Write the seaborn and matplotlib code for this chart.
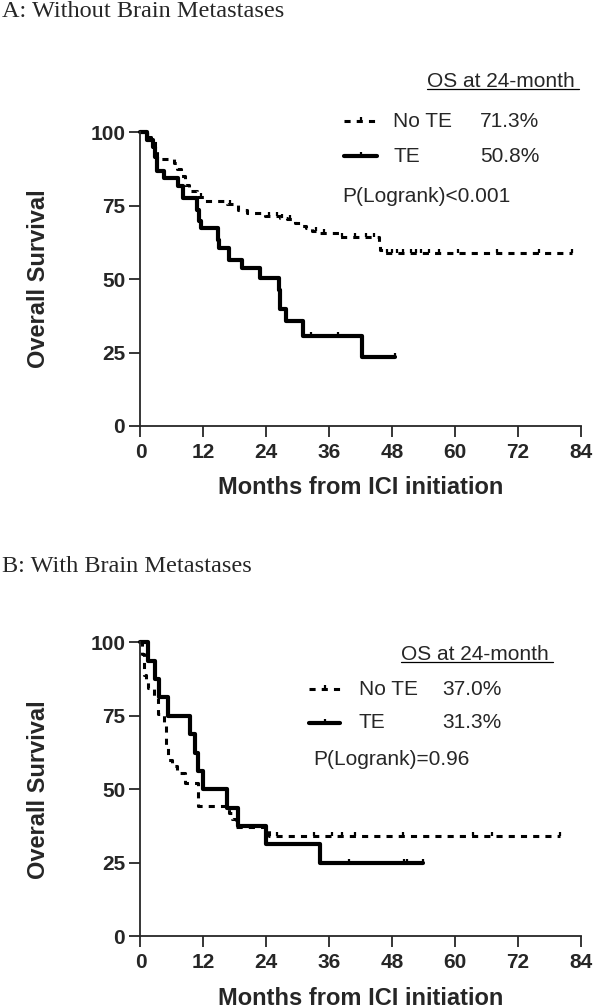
import numpy as np
import pandas as pd
import matplotlib
matplotlib.use("Agg")
import matplotlib.pyplot as plt
import seaborn as sns

# Panel A: without brain metastases (step start times in months, survival %)
a_note_t = [0, 1.0, 2.0, 2.8, 3.2, 6.4, 6.9, 7.7, 8.5, 9.2, 10.7, 12.1, 16.5, 18.6,
            20.4, 23.7, 26.6, 28.0, 29.5, 30.6, 31.6, 32.7, 33.8, 37.8, 45.4, 45.7,
            46.4, 82.2]
a_note_s = [100, 98.5, 97, 94, 91, 89.5, 87.5, 85, 82, 80, 78, 76.5, 75.5, 73.5,
            72.5, 71.5, 71, 70.5, 69, 68, 67.5, 66.5, 65.8, 64.5, 62, 60, 59, 59]
a_note_cens = [1.5, 11.5, 17.0, 24.5, 26.0, 27.0, 28.5, 33.5, 35.0, 38.5, 41.0,
               43.0, 44.5, 47.0, 48.0, 49.0, 50.0, 51.5, 52.5, 53.5, 55.0, 57.0,
               60.5, 68.0, 76.0, 82.2]
a_te_t = [0, 1.3, 2.4, 2.7, 3.1, 4.55, 7.1, 8.2, 10.7, 11.2, 11.6, 14.7, 14.9,
          16.8, 19.4, 22.8, 26.4, 26.6, 27.7, 30.9, 42.3, 48.6]
a_te_s = [100, 97.5, 95, 91.5, 87, 84.4, 81.6, 77.6, 73.6, 69.7, 67.4, 63.4, 60.6,
          56.6, 53.75, 50.3, 46.4, 40, 35.6, 30.7, 23.6, 23.6]
a_te_cens = [32.5, 37.6, 48.6]

# Panel B: with brain metastases
b_note_t = [0, 0.3, 0.6, 1.0, 1.5, 2.5, 3.3, 4.5, 4.9, 5.3, 6.0, 7.0, 8.5, 10.9,
            16.8, 17.5, 18.2, 24.6, 80.0]
b_note_s = [100, 96, 89, 86.5, 84.5, 81, 75.5, 72, 64, 60, 58, 55.5, 52, 44.4,
            41.8, 40, 37.3, 33.9, 33.9]
b_note_cens = [26.0, 33.0, 36.5, 38.5, 41.0, 50.0, 63.5, 67.0, 80.0]
b_te_t = [0, 1.5, 2.8, 3.6, 5.3, 9.4, 10.4, 11.0, 11.9, 16.5, 18.6, 23.9, 34.2, 53.9]
b_te_s = [100, 93.75, 87.5, 81.25, 75, 68.75, 62.5, 56.25, 50, 43.75, 37.5, 31.25,
          25, 25]
b_te_cens = [39.7, 50.2, 50.8, 53.9]

os_a = ["71.3%", "50.8%"]
os_b = ["37.0%", "31.3%"]
pval_a = "P(Logrank)<0.001"
pval_b = "P(Logrank)=0.96"

sns.set_style("ticks")
plt.rcParams["font.family"] = ["Liberation Sans", "DejaVu Sans"]

DASH = (0, (2, 2))
TICK_MARK = [(0, 0), (0, 1)]


def step_value(times, surv, c):
    i = np.searchsorted(times, c, side="right") - 1
    return surv[i]


def draw_curve(ax, times, surv, cens, dashed):
    df = pd.DataFrame({"t": times, "s": surv})
    lw = 2.2 if dashed else 3.0
    ls = DASH if dashed else "-"
    sns.lineplot(data=df, x="t", y="s", ax=ax, color="black", linewidth=lw,
                 linestyle=ls, drawstyle="steps-post", sort=False,
                 estimator=None, clip_on=False)
    cy = [step_value(np.array(times), surv, c) for c in cens]
    ax.plot(cens, cy, ls="none", marker=TICK_MARK, markersize=6,
            markeredgewidth=1.6, color="black", clip_on=False)


def style_axis(ax):
    ax.set_xlim(0, 84)
    ax.set_ylim(0, 100)
    ax.set_xticks(range(0, 85, 12))
    ax.set_yticks([0, 25, 50, 75, 100])
    sns.despine(ax=ax)
    for sp in ["left", "bottom"]:
        ax.spines[sp].set_linewidth(1.3)
    ax.tick_params(axis="both", length=8, width=1.3, labelsize=15)
    ax.tick_params(axis="x", pad=4)
    ax.tick_params(axis="y", pad=3)
    for lab in ax.get_xticklabels() + ax.get_yticklabels():
        lab.set_fontweight("bold")
    ax.set_xlabel("Months from ICI initiation", fontsize=17, fontweight="bold")
    ax.set_ylabel("Overall Survival", fontsize=17, fontweight="bold")
    ax.xaxis.set_label_coords(0.5, -0.172)
    ax.yaxis.set_label_coords(-0.205, 0.5)


def draw_legend(ax, head, line_x, row_y, name_x, pct_x, pcts, p_xy, ptxt):
    tr = ax.transAxes
    ax.text(head[0], head[1], "OS at 24-month", transform=tr, fontsize=15,
            ha="left", va="center")
    ax.plot([head[0], head[2]], [head[3], head[3]], transform=tr, color="black",
            linewidth=0.9, clip_on=False)
    for y, dashed, name, pct in zip(row_y, [True, False], ["No TE", "TE"], pcts):
        ax.plot(line_x, [y, y], transform=tr, color="black",
                linewidth=2.2 if dashed else 3.0,
                linestyle=DASH if dashed else "-", clip_on=False)
        ax.plot([np.mean(line_x)], [y], transform=tr, ls="none",
                marker=TICK_MARK, markersize=6, markeredgewidth=1.6,
                color="black", clip_on=False)
        ax.text(name_x, y, name, transform=tr, fontsize=15, ha="left", va="center")
        ax.text(pct_x, y, pct, transform=tr, fontsize=15, ha="left", va="center")
    ax.text(p_xy[0], p_xy[1], ptxt, transform=tr, fontsize=15, ha="left",
            va="center")


fig = plt.figure(figsize=(5.94, 10.08), dpi=100)
ax_a = fig.add_axes([0.2365, 0.5774, 0.7416, 0.2913])
ax_b = fig.add_axes([0.2365, 0.0714, 0.7416, 0.2913])

draw_curve(ax_a, a_note_t, a_note_s, a_note_cens, True)
draw_curve(ax_a, a_te_t, a_te_s, a_te_cens, False)
draw_curve(ax_b, b_note_t, b_note_s, b_note_cens, True)
draw_curve(ax_b, b_te_t, b_te_s, b_te_cens, False)

for ax in (ax_a, ax_b):
    style_axis(ax)

draw_legend(ax_a, (0.650, 1.174, 0.995, 1.146), [0.463, 0.536], [1.0375, 0.918],
            0.574, 0.770, os_a, (0.458, 0.782), pval_a)
draw_legend(ax_b, (0.592, 0.958, 0.937, 0.933), [0.383, 0.454], [0.841, 0.727],
            0.496, 0.686, os_b, (0.392, 0.600), pval_b)

fig.text(0.003, 1 - 17 / 1008, "A: Without Brain Metastases", fontsize=17.5,
         family=["Liberation Serif", "DejaVu Serif"], va="baseline", ha="left")
fig.text(0.003, 1 - 571.5 / 1008, "B: With Brain Metastases", fontsize=17.5,
         family=["Liberation Serif", "DejaVu Serif"], va="baseline", ha="left")

fig.savefig("out.png", dpi=100)
